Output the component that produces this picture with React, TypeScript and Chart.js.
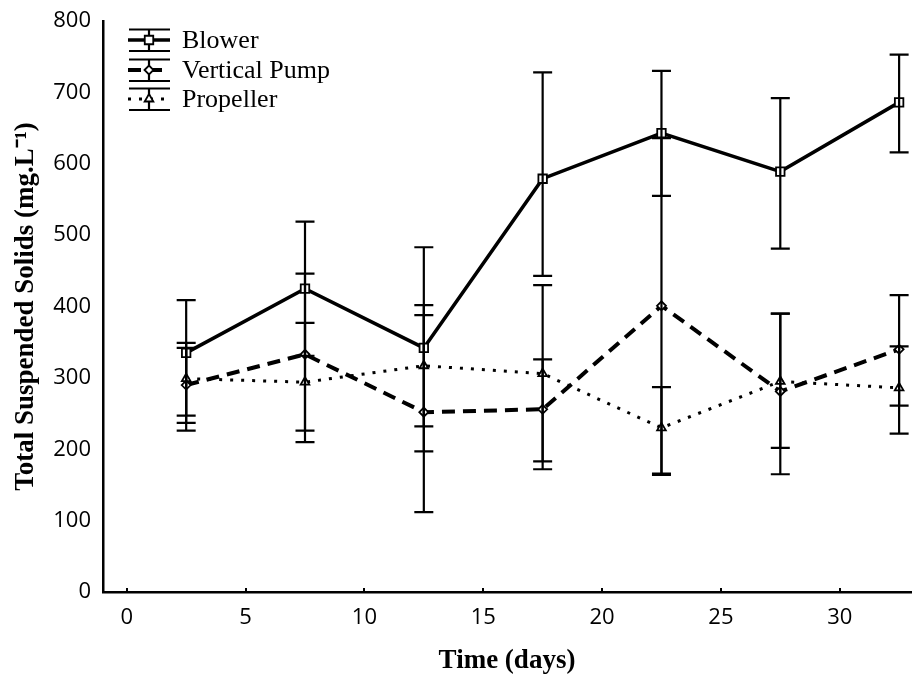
import React, { useEffect, useRef } from 'react';
import { Chart, registerables } from 'chart.js';

Chart.register(...registerables);

const days = [2.5, 7.5, 12.5, 17.5, 22.5, 27.5, 32.5];

const blowerMean = [335, 425, 342, 579, 643, 589, 686];
const blowerHigh = [409, 519, 483, 728, 730, 692, 753];
const blowerLow = [226, 331, 197, 443, 555, 481, 616];

const pumpMean = [290, 333, 252, 256, 401, 281, 340];
const pumpHigh = [342, 446, 388, 326, 636, 390, 416];
const pumpLow = [237, 226, 112, 172, 166, 165, 261];

const propMean = [299, 294, 317, 306, 230, 295, 286];
const propHigh = [349, 377, 402, 430, 287, 390, 344];
const propLow = [247, 210, 232, 183, 164, 202, 222];

const xTicks = [0, 5, 10, 15, 20, 25, 30];
const yTicks = [0, 100, 200, 300, 400, 500, 600, 700, 800];

const seriesNames = ['Blower', 'Vertical Pump', 'Propeller'];

const SERIF = '"Liberation Serif", "Times New Roman", serif';
const SANS = '"Open Sans", "Noto Sans", sans-serif';

const styles = [
  { dash: [] as number[], width: 3.5, point: 'rect', radius: 6 },
  { dash: [13, 8], width: 4, point: 'rectRot', radius: 4.5 },
  { dash: [3, 8], width: 3, point: 'triangle', radius: 5 },
];

const errorBars = [
  [blowerLow, blowerHigh],
  [pumpLow, pumpHigh],
  [propLow, propHigh],
];

function drawMarker(ctx: CanvasRenderingContext2D, style: string, x: number, y: number, r: number) {
  ctx.beginPath();
  if (style === 'rect') {
    const s = r * Math.SQRT1_2;
    ctx.rect(x - s, y - s, 2 * s, 2 * s);
  } else if (style === 'rectRot') {
    ctx.moveTo(x - r, y);
    ctx.lineTo(x, y - r);
    ctx.lineTo(x + r, y);
    ctx.lineTo(x, y + r);
    ctx.closePath();
  } else {
    ctx.moveTo(x, y - r);
    ctx.lineTo(x + r * 0.87, y + r * 0.5);
    ctx.lineTo(x - r * 0.87, y + r * 0.5);
    ctx.closePath();
  }
  ctx.fillStyle = '#fff';
  ctx.fill();
  ctx.lineWidth = 1.8;
  ctx.strokeStyle = '#000';
  ctx.stroke();
}

const errorBarPlugin = {
  id: 'errorBars',
  afterDatasetsDraw(chart: any) {
    const { ctx, scales } = chart;
    const xs = scales.x;
    const ys = scales.y;
    ctx.save();
    ctx.strokeStyle = '#000';
    ctx.lineWidth = 2.2;
    ctx.setLineDash([]);
    errorBars.forEach(([lo, hi]) => {
      days.forEach((d, i) => {
        const px = xs.getPixelForValue(d);
        const yl = ys.getPixelForValue(lo[i]);
        const yh = ys.getPixelForValue(hi[i]);
        ctx.beginPath();
        ctx.moveTo(px, yh);
        ctx.lineTo(px, yl);
        ctx.moveTo(px - 9.5, yh);
        ctx.lineTo(px + 9.5, yh);
        ctx.moveTo(px - 9.5, yl);
        ctx.lineTo(px + 9.5, yl);
        ctx.stroke();
      });
    });
    ctx.restore();
  },
  afterDraw(chart: any) {
    const { ctx, scales, chartArea } = chart;
    const xs = scales.x;
    ctx.save();
    ctx.strokeStyle = '#000';
    ctx.lineWidth = 2;
    xTicks.forEach((t) => {
      const px = Math.round(xs.getPixelForValue(t));
      ctx.beginPath();
      ctx.moveTo(px, chartArea.bottom);
      ctx.lineTo(px, chartArea.bottom - 4);
      ctx.stroke();
    });
    const lx0 = 128;
    const lx1 = 170;
    const lxc = 149;
    const rows = [40, 70, 99];
    seriesNames.forEach((name, i) => {
      const cy = rows[i];
      const st = styles[i];
      ctx.strokeStyle = '#000';
      ctx.lineWidth = st.width;
      ctx.setLineDash(st.dash);
      ctx.beginPath();
      ctx.moveTo(lx0, cy);
      ctx.lineTo(lx1, cy);
      ctx.stroke();
      ctx.setLineDash([]);
      ctx.lineWidth = 2.2;
      ctx.beginPath();
      ctx.moveTo(lxc, cy - 10.5);
      ctx.lineTo(lxc, cy + 11);
      ctx.moveTo(lx0 + 1, cy - 10.5);
      ctx.lineTo(lx1, cy - 10.5);
      ctx.moveTo(lx0 + 1, cy + 11);
      ctx.lineTo(lx1, cy + 11);
      ctx.stroke();
      drawMarker(ctx, st.point, lxc, cy, st.radius);
      ctx.fillStyle = '#000';
      ctx.font = `26px ${SERIF}`;
      ctx.textAlign = 'left';
      ctx.textBaseline = 'middle';
      ctx.fillText(name, 182, cy + 1);
    });
    ctx.restore();
  },
};

export default function App() {
  const ref = useRef<HTMLCanvasElement | null>(null);

  useEffect(() => {
    if (!ref.current) return;
    const means = [blowerMean, pumpMean, propMean];
    const chart = new Chart(ref.current, {
      type: 'line',
      data: {
        datasets: seriesNames.map((name, si) => ({
          label: name,
          data: days.map((d, i) => ({ x: d, y: means[si][i] })),
          borderColor: '#000',
          borderWidth: styles[si].width,
          borderDash: styles[si].dash,
          pointStyle: styles[si].point as any,
          pointRadius: styles[si].radius,
          pointBackgroundColor: '#fff',
          pointBorderColor: '#000',
          pointBorderWidth: 1.8,
          tension: 0,
          fill: false,
        })),
      },
      options: {
        animation: false,
        responsive: false,
        layout: { autoPadding: false, padding: { top: 21, right: 2, left: 0, bottom: 0 } },
        plugins: {
          legend: { display: false },
          tooltip: { enabled: false },
        },
        scales: {
          x: {
            type: 'linear',
            min: -1,
            max: 33,
            afterBuildTicks: (s: any) => {
              s.ticks = xTicks.map((v) => ({ value: v }));
            },
            afterFit: (s: any) => {
              s.height = 88;
              s.paddingLeft = 0;
              s.paddingRight = 0;
            },
            grid: { display: false, drawTicks: false },
            border: { display: true, color: '#000', width: 2.5 },
            ticks: {
              color: '#000',
              padding: 13,
              font: { family: SANS, size: 22 },
              maxRotation: 0,
            },
            title: {
              display: true,
              text: 'Time (days)',
              color: '#000',
              font: { family: SERIF, size: 27, weight: 'bold' },
              padding: { top: 0, bottom: 3 },
            },
          },
          y: {
            type: 'linear',
            min: 0,
            max: 800,
            afterBuildTicks: (s: any) => {
              s.ticks = yTicks.map((v) => ({ value: v }));
            },
            afterFit: (s: any) => {
              s.width = 103;
              s.paddingTop = 0;
              s.paddingBottom = 0;
            },
            grid: { display: false, drawTicks: false },
            border: { display: true, color: '#000', width: 2.5 },
            ticks: {
              color: '#000',
              padding: 12,
              font: { family: SANS, size: 22 },
            },
            title: {
              display: true,
              text: 'Total Suspended Solids (mg.L\u207B\u00B9)',
              color: '#000',
              font: { family: SERIF, size: 27, weight: 'bold' },
              padding: { top: 10, bottom: 0 },
            },
          },
        },
      },
      plugins: [errorBarPlugin],
    });
    return () => chart.destroy();
  }, []);

  return (
    <div style={{ position: 'absolute', left: 0, top: 0, width: 913, height: 680, background: '#fff' }}>
      <canvas ref={ref} width={913} height={680} style={{ display: 'block' }} />
    </div>
  );
}
